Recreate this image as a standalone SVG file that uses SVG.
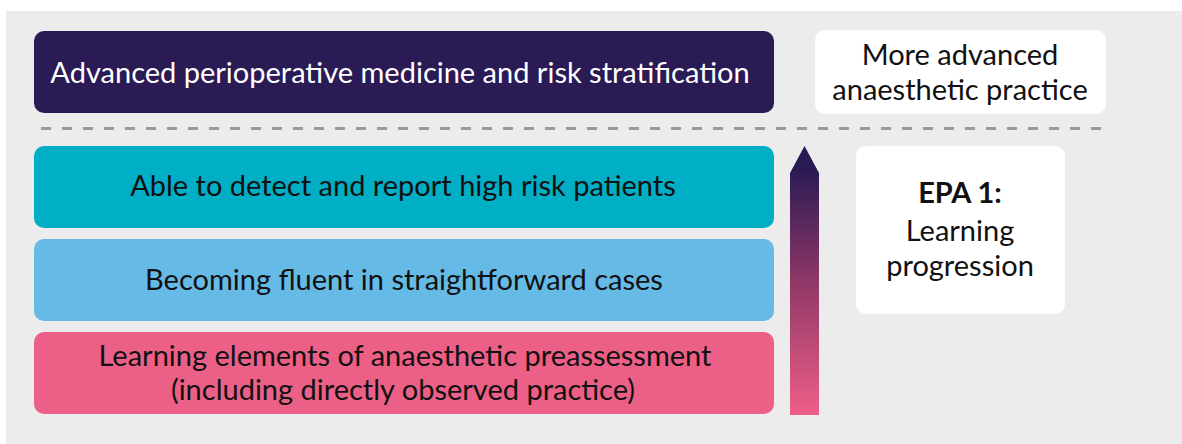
<svg xmlns="http://www.w3.org/2000/svg" width="1182" height="444" viewBox="0 0 1182 444">
<style>
.t{font-family:Lato,"Liberation Sans",sans-serif;font-size:29px;fill:#111;text-anchor:middle}
.w{fill:#fff}
.b{font-weight:bold}
</style>
<defs>
<linearGradient id="g" gradientUnits="userSpaceOnUse" x1="0" y1="170" x2="0" y2="415">
<stop offset="0" stop-color="#2b1b55"/>
<stop offset="0.45" stop-color="#8e3766"/>
<stop offset="1" stop-color="#ee5f88"/>
</linearGradient>
</defs>
<rect x="6" y="11" width="1176" height="433" fill="#ebeceb"/>
<g id="advanced">
<rect x="34" y="31" width="740" height="82" rx="10" fill="#2b1b55"/>
<text class="t w" x="400" y="83">Advanced perioperative medicine and risk stratification</text>
</g>
<g id="more-advanced">
<rect x="815" y="30" width="291" height="84" rx="10" fill="#fff"/>
<text class="t" x="960" y="65">More advanced</text>
<text class="t" x="960" y="100">anaesthetic practice</text>
</g>
<g id="connectors">
<line x1="41" y1="128.5" x2="1106" y2="128.5" stroke="#999" stroke-width="3" stroke-dasharray="10 11"/>
<path d="M790 173 L804.5 146 L819 173 L819 415 L790 415 Z" fill="url(#g)"/>
</g>
<g id="detect">
<rect x="34" y="146" width="740" height="82" rx="10" fill="#00aec5"/>
<text class="t" x="403" y="196">Able to detect and report high risk patients</text>
</g>
<g id="fluent">
<rect x="34" y="239" width="740" height="82" rx="10" fill="#66bae6"/>
<text class="t" x="404" y="290">Becoming fluent in straightforward cases</text>
</g>
<g id="learning">
<rect x="34" y="332" width="740" height="82" rx="10" fill="#ec6088"/>
<text class="t" x="405" y="366">Learning elements of anaesthetic preassessment</text>
<text class="t" x="403" y="400">(including directly observed practice)</text>
</g>
<g id="epa">
<rect x="856" y="146" width="209" height="168" rx="10" fill="#fff"/>
<text class="t b" x="960" y="203">EPA 1:</text>
<text class="t" x="960" y="241">Learning</text>
<text class="t" x="960" y="276">progression</text>
</g>
</svg>
